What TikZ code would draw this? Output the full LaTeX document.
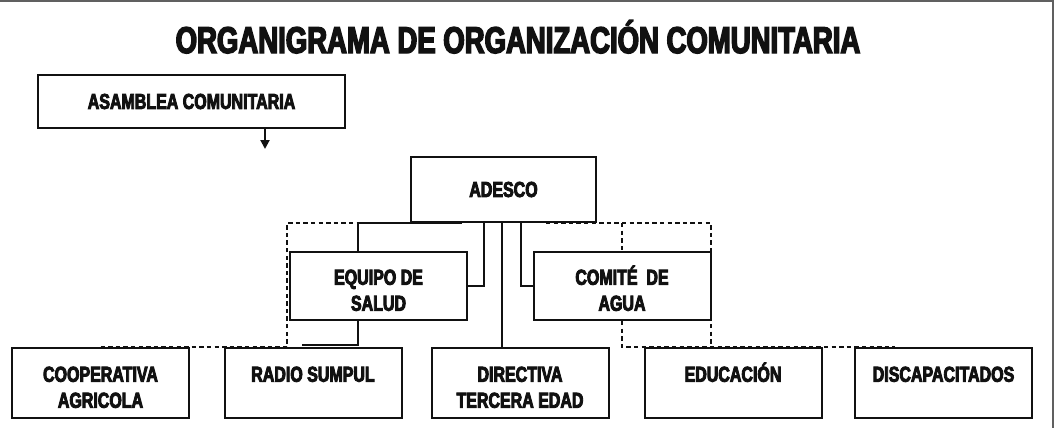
\documentclass[tikz,border=0pt]{standalone}
\usepackage{fontspec}
\newfontfamily\orgfont[FakeStretch=0.74,FakeBold=4]{Liberation Sans Bold}
\definecolor{frameline}{RGB}{96,96,96}
\definecolor{inkblack}{RGB}{17,17,17}
\usetikzlibrary{arrows.meta}

\begin{document}
\begin{tikzpicture}[x=0.5pt,y=-0.5pt,
  box/.style={draw=inkblack,line width=1pt,align=center,text=inkblack,inner sep=0pt,
    font=\orgfont\fontsize{10.8}{13}\selectfont},
  unit/.style={box,minimum width=88.5pt,minimum height=35pt,text height=8.75pt,text depth=10pt},
  pair/.style={unit,text height=26.75pt,text depth=2pt},
  link/.style={draw=inkblack,line width=1pt},
  dashlink/.style={draw=inkblack,line width=1.3pt,dash pattern=on 2.2pt off 1.6pt}]
  \useasboundingbox (0,0) rectangle (1058,428);
  \draw[frameline,line width=1.3pt] (0,1) -- (1053,1) -- (1053,428);
  \node[anchor=base,text=inkblack,font=\orgfont\fontsize{18.6}{22}\selectfont] (title) at (518,53)
    {ORGANIGRAMA DE ORGANIZACIÓN COMUNITARIA};
  % top levels
  \node[box,minimum width=153.5pt,minimum height=26.5pt] (asamblea) at (191.5,101.5) {ASAMBLEA COMUNITARIA};
  \node[box,minimum width=92.5pt,minimum height=32.5pt] (adesco) at (503.5,189.5) {ADESCO};
  \node[pair,minimum height=34pt] (equipo) at (378.5,286) {EQUIPO DE\\SALUD};
  \node[pair,minimum height=34pt] (comite) at (622,286) {COMITÉ~~DE\\AGUA};
  % bottom row
  \node[pair] (coop) at (100.5,383) {COOPERATIVA\\AGRICOLA};
  \node[unit] (radio) at (313,383) {RADIO SUMPUL};
  \node[pair] (directiva) at (520,383) {DIRECTIVA\\TERCERA EDAD};
  \node[unit] (educacion) at (733,383) {EDUCACIÓN};
  \node[unit] (discap) at (943.5,383) {DISCAPACITADOS};
  % solid links
  \coordinate (arrowtip) at (265,149);
  \draw[link,-{Triangle[length=4.5pt,width=4.5pt]}] ([xshift=36.75pt]asamblea.south) -- (arrowtip);
  \draw[link] ([xshift=26pt]adesco.south west) -| ([xshift=-10.25pt]equipo.north);
  \draw[link] ([xshift=-9.75pt]adesco.south) |- (equipo.east);
  \draw[link] ([xshift=-0.75pt]adesco.south) -- ([xshift=-0.75pt]adesco.south |- directiva.north);
  \draw[link] ([xshift=8.75pt]adesco.south) |- (comite.west);
  \draw[link] ([xshift=-10.25pt]equipo.south) |- ([xshift=-5.5pt,yshift=1pt]radio.north);
  % dashed links
  \coordinate (leftcorner) at (287,223);
  \coordinate (rightcorner) at (711,223);
  \coordinate (dashend) at (895,347);
  \draw[dashlink] (coop.north) -| (leftcorner) -- ([xshift=-10.25pt]equipo.north |- leftcorner);
  \draw[dashlink] ([xshift=21.25pt]adesco.south |- rightcorner) -- (rightcorner) -- (rightcorner |- dashend);
  \draw[dashlink] (comite.north |- rightcorner) -- (comite.north);
  \draw[dashlink] (comite.south) |- (dashend);
\end{tikzpicture}
\end{document}
